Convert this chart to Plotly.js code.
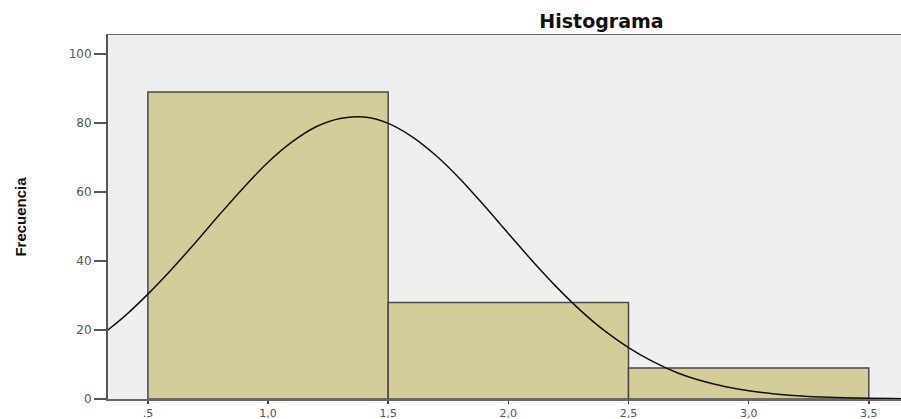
<!DOCTYPE html>
<html>
<head>
<meta charset="utf-8">
<script src="https://cdn.plot.ly/plotly-3.0.1.min.js"></script>
<style>html,body{margin:0;padding:0;background:#fff;overflow:hidden;}#chart{width:901px;height:419px;}</style>
</head>
<body>
<div id="chart"></div>
<script>
// Histogram bins (class centres) and frequencies
const binCenters = [1, 2, 3];
const frequencies = [89, 28, 9];

// Fitted normal curve
const curveX = [0.3, 0.4, 0.5, 0.6, 0.7, 0.8, 0.9, 1.0, 1.1, 1.2, 1.3, 1.4, 1.5, 1.6, 1.7, 1.8, 1.9, 2.0, 2.1, 2.2, 2.3, 2.4, 2.5, 2.6, 2.7, 2.8, 2.9, 3.0, 3.1, 3.2, 3.3, 3.4, 3.5, 3.6, 3.7];
const curveY = [18.2, 23.8, 30.4, 37.7, 45.5, 53.6, 61.4, 68.6, 74.5, 78.9, 81.3, 81.7, 79.9, 76.0, 70.5, 63.7, 56.0, 48.0, 40.0, 32.5, 25.7, 19.8, 14.9, 10.9, 7.7, 5.35, 3.6, 2.37, 1.52, 0.95, 0.58, 0.34, 0.2, 0.11, 0.06];

// Tick labels
const xTickVals = [0.5, 1.0, 1.5, 2.0, 2.5, 3.0, 3.5];
const xTickText = [".5", "1,0", "1,5", "2,0", "2,5", "3,0", "3,5"];
const yTickVals = [0, 20, 40, 60, 80, 100];
const yTickText = ["0", "20", "40", "60", "80", "100"];

const traces = [
  {
    type: 'bar',
    x: binCenters,
    y: frequencies,
    width: 1,
    marker: {color: '#d3ce97', line: {color: '#4a4a4a', width: 1.5}},
    hoverinfo: 'x+y'
  },
  {
    type: 'scatter',
    mode: 'lines',
    x: curveX,
    y: curveY,
    line: {color: '#111', width: 1.5, shape: 'spline'},
    hoverinfo: 'skip'
  }
];

const tickFont = {family: 'DejaVu Sans, sans-serif', size: 12, color: '#555'};

const layout = {
  width: 901,
  height: 419,
  margin: {l: 108, r: 0, t: 35, b: 20, pad: 0},
  paper_bgcolor: '#ffffff',
  plot_bgcolor: '#efefef',
  showlegend: false,
  bargap: 0,
  title: {
    text: 'Histograma',
    font: {family: 'DejaVu Sans, sans-serif', size: 19, color: '#111', weight: 'bold'},
    xref: 'container', x: 0.6676, xanchor: 'center',
    yref: 'container', y: 0.95, yanchor: 'middle'
  },
  xaxis: {
    range: [0.334, 3.634],
    tickmode: 'array',
    tickvals: xTickVals,
    ticktext: xTickText,
    ticks: 'outside',
    ticklen: 3,
    tickwidth: 1.5,
    tickcolor: '#444',
    tickfont: {family: 'DejaVu Sans, sans-serif', size: 11, color: '#555'},
    showgrid: false,
    zeroline: false,
    showline: true,
    linecolor: '#666',
    linewidth: 1.5,
    mirror: true
  },
  yaxis: {
    range: [0, 105.5],
    tickmode: 'array',
    tickvals: yTickVals,
    ticktext: yTickText,
    ticks: 'outside',
    ticklen: 12,
    tickwidth: 1.5,
    tickcolor: '#555',
    tickfont: tickFont,
    showgrid: false,
    zeroline: false,
    showline: true,
    linecolor: '#555',
    linewidth: 2,
    title: {
      text: 'Frecuencia',
      font: {family: 'Liberation Sans Narrow, Liberation Sans, Arial, sans-serif', size: 15, color: '#111', weight: 'bold'},
      standoff: 38
    }
  }
};

Plotly.newPlot('chart', traces, layout, {displayModeBar: false, staticPlot: true});
</script>
</body>
</html>
